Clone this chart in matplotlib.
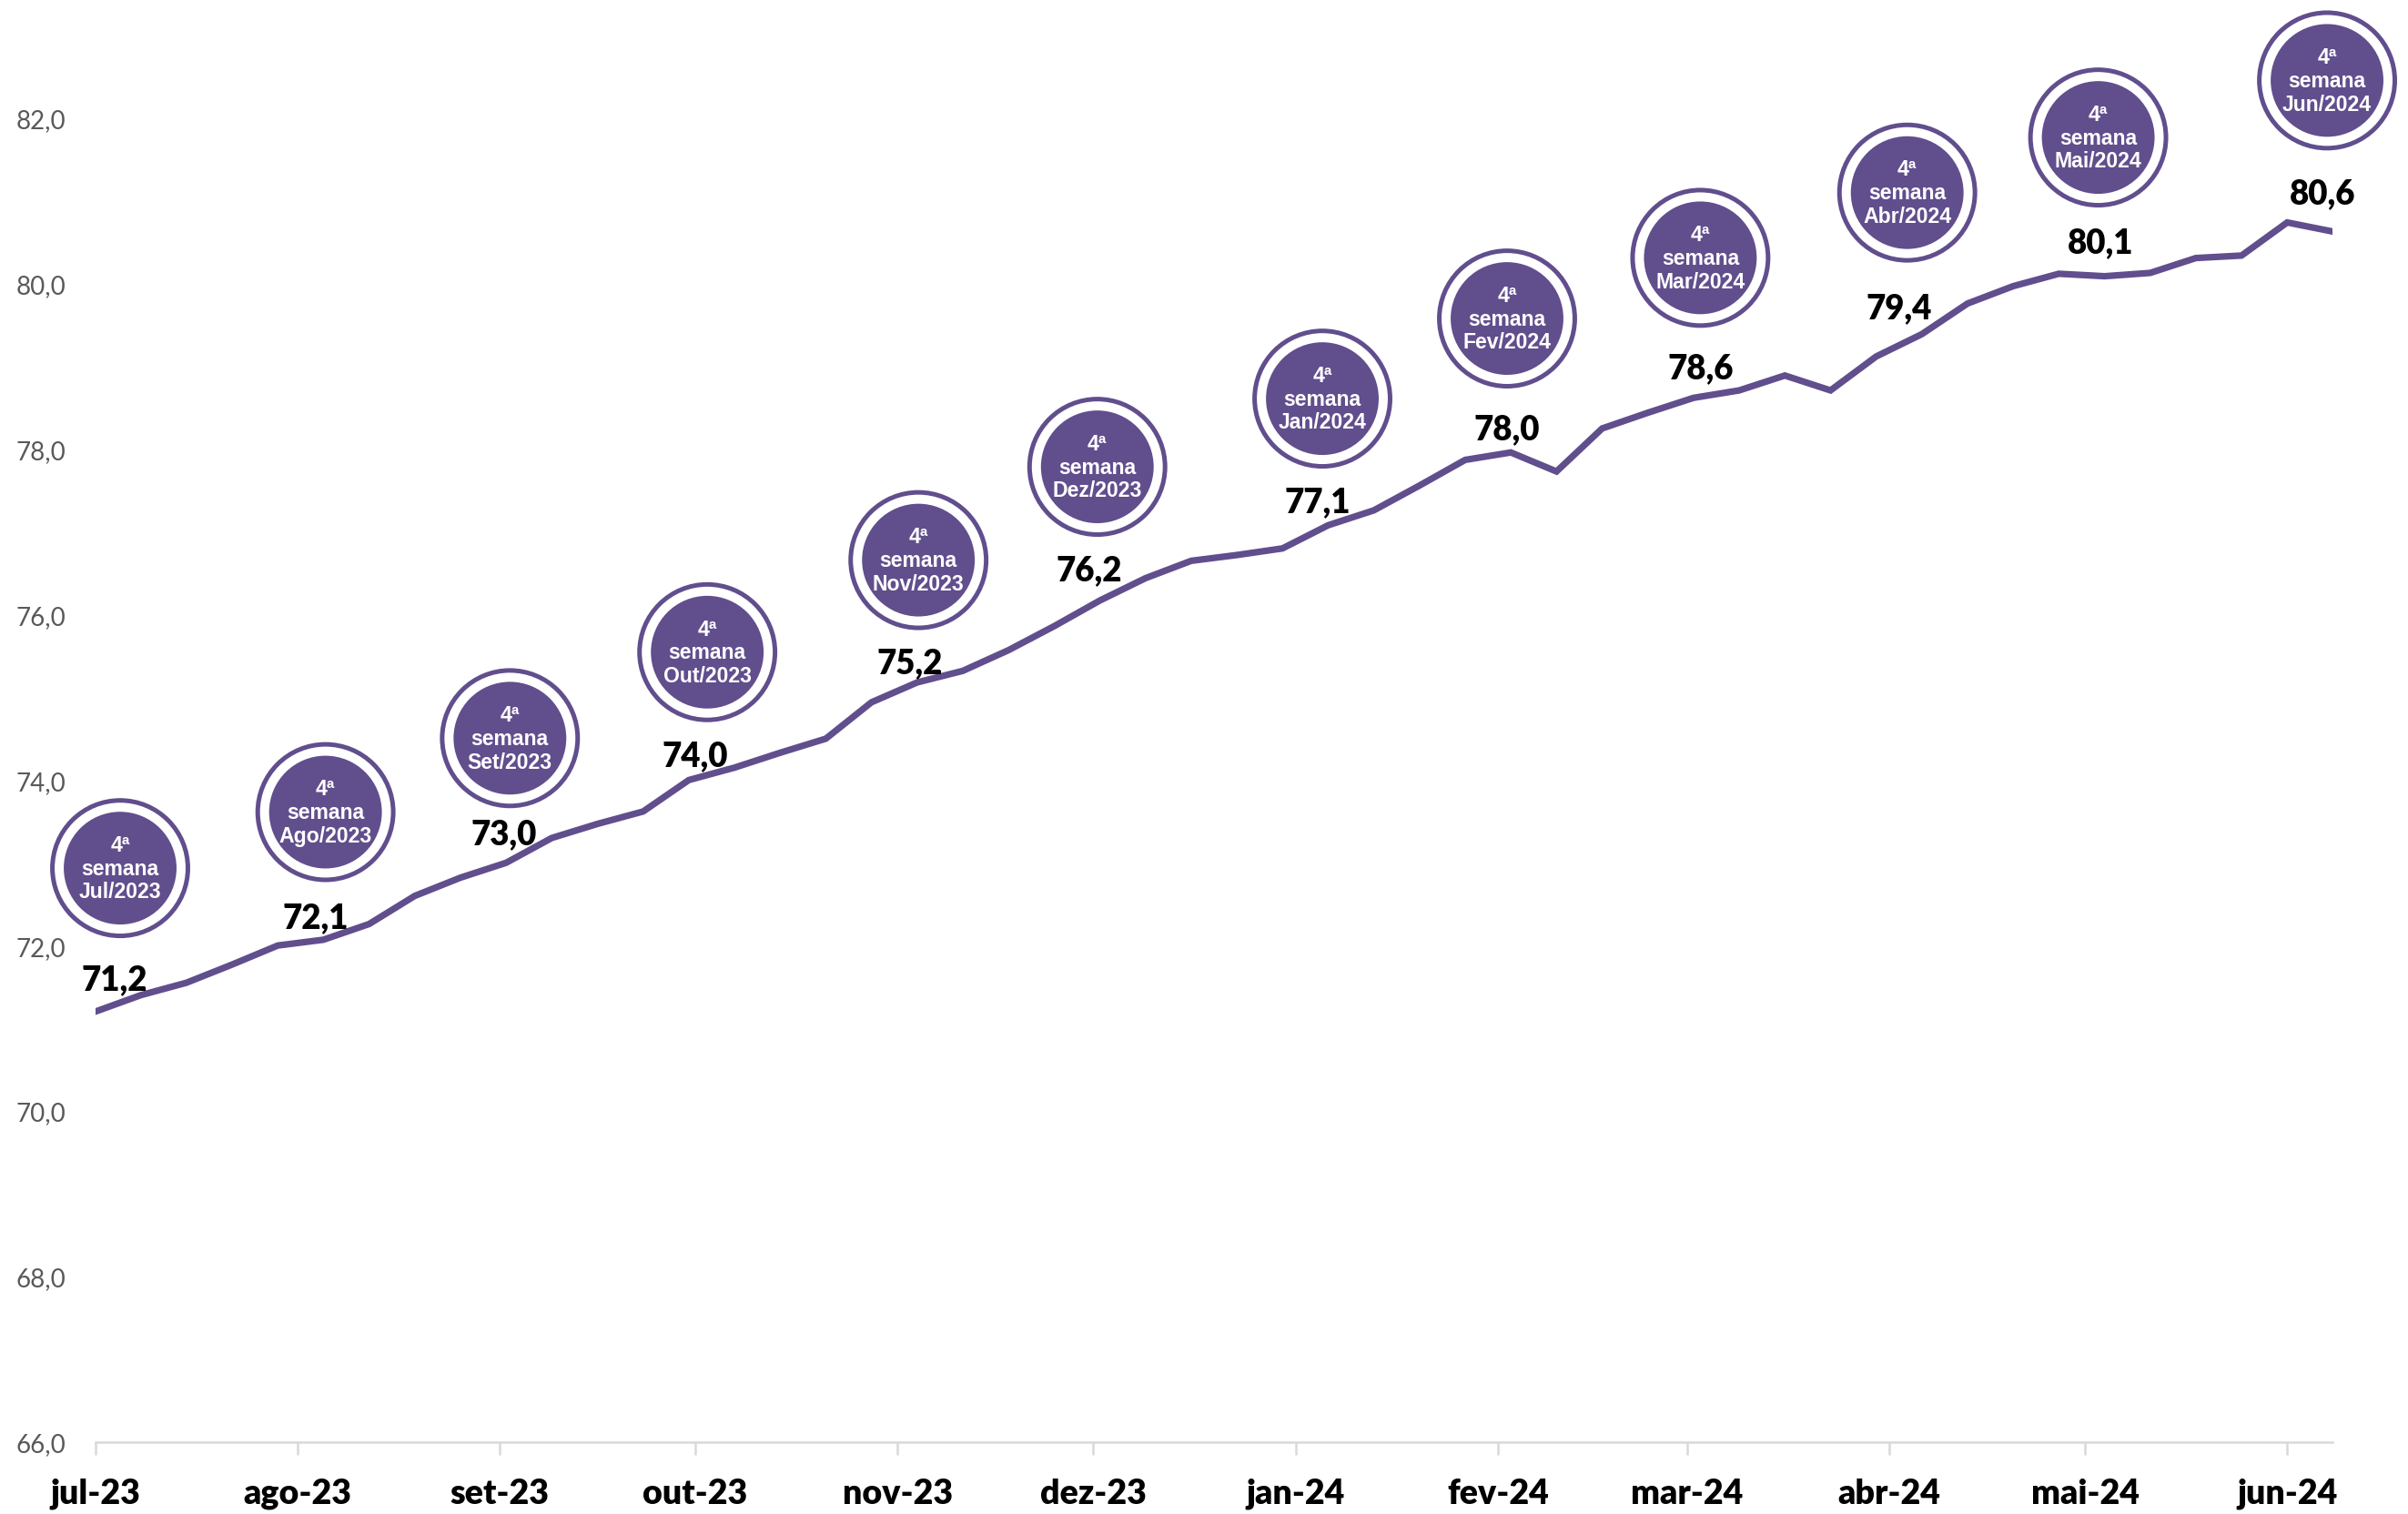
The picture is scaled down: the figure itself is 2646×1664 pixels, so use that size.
import numpy as np
import pandas as pd
import matplotlib
matplotlib.use('Agg')
import matplotlib.pyplot as plt
import matplotlib.dates as mdates
from matplotlib.patches import Circle
from matplotlib.transforms import ScaledTranslation

# -------- dados (semanas, valores em %) --------
WEEK_START = '2023-07-24'
VALUES = [71.2, 71.4, 71.55, 71.77, 72.0, 72.07, 72.26, 72.6, 72.82, 73.0,
          73.3, 73.47, 73.62, 74.0, 74.15, 74.33, 74.5, 74.94, 75.18, 75.32,
          75.57, 75.86, 76.17, 76.44, 76.65, 76.72, 76.8, 77.08, 77.26, 77.56,
          77.87, 77.96, 77.73, 78.25, 78.44, 78.62, 78.71, 78.89, 78.71, 79.12,
          79.39, 79.76, 79.97, 80.12, 80.09, 80.13, 80.31, 80.34, 80.74, 80.63]

# semanas destacadas (4a semana de cada mes)
LABEL_IDX = [0, 5, 9, 13, 18, 22, 27, 31, 35, 40, 44, 49]
BADGE_MONTHS = ['Jul/2023', 'Ago/2023', 'Set/2023', 'Out/2023', 'Nov/2023', 'Dez/2023',
                'Jan/2024', 'Fev/2024', 'Mar/2024', 'Abr/2024', 'Mai/2024', 'Jun/2024']

TICK_LABELS = ['jul-23', 'ago-23', 'set-23', 'out-23', 'nov-23', 'dez-23',
               'jan-24', 'fev-24', 'mar-24', 'abr-24', 'mai-24', 'jun-24']
Y_TICKS = [66, 68, 70, 72, 74, 76, 78, 80, 82]

# -------- layout (deslocamentos em pontos) --------
LABEL_OFFSETS = [(7.7, 12.8), (-3.3, 8.8), (-0.8, 11.7), (2.4, 9.7), (-2.9, 8.0), (-4.1, 12.3),
                 (-4.2, 9.5), (-1.5, 9.5), (3.0, 11.8), (-9.1, 10.3), (-1.5, 13.4), (-4.1, 15.4)]
BADGE_OFFSETS = [(9.9, 56.8), (0.8, 50.5), (1.5, 49.3), (7.3, 50.6), (0.5, 48.4), (-1.0, 52.9),
                 (-2.3, 50.1), (-1.5, 53.0), (2.7, 55.4), (-5.8, 56.0), (-2.5, 54.9), (-2.3, 59.8)]

PURPLE = '#614E8D'
INNER_R = 22.3   # pt
RING_R = 26.8    # pt
RING_LW = 1.8

dates = pd.date_range(WEEK_START, periods=len(VALUES), freq='7D')
xs = mdates.date2num(dates)
tick_dates = [pd.Timestamp(WEEK_START) + pd.DateOffset(months=k) for k in range(len(TICK_LABELS))]

fig = plt.figure(figsize=(13.23, 8.325), dpi=200)
ax = fig.add_axes([0.0395, 0.0476, 0.9293, 0.9524])

ax.plot(xs, VALUES, color=PURPLE, lw=2.6, solid_capstyle='round', solid_joinstyle='miter', zorder=3)

ax.set_xlim(xs[0], xs[-1])
ax.set_ylim(66, 83.44)

ax.set_yticks(Y_TICKS)
ax.set_yticklabels([f'{t:.1f}'.replace('.', ',') for t in Y_TICKS],
                   family='Lato', fontsize=10, color='#595959')
ax.set_xticks(mdates.date2num(tick_dates))
ax.set_xticklabels(TICK_LABELS, family='Lato', fontweight='heavy', fontsize=13.5, color='black')

for s in ['top', 'right', 'left']:
    ax.spines[s].set_visible(False)
ax.spines['bottom'].set_color('#D9D9D9')
ax.spines['bottom'].set_linewidth(0.9)
ax.tick_params(axis='y', length=0, pad=11.7)
ax.tick_params(axis='x', length=5, width=0.9, color='#D9D9D9', pad=9)

# rotulos de dados e selos
for k, i in enumerate(LABEL_IDX):
    x, y = xs[i], VALUES[i]
    ldx, ldy = LABEL_OFFSETS[k]
    ax.annotate(f'{y:.1f}'.replace('.', ','), (x, y), xytext=(ldx, ldy),
                textcoords='offset points', ha='center', va='center',
                family='Lato', fontweight='heavy', fontsize=13.2, color='black', zorder=5)

    bdx, bdy = BADGE_OFFSETS[k]
    trans = fig.dpi_scale_trans + ScaledTranslation(x, y, ax.transData)
    center = (bdx / 72, bdy / 72)
    ax.add_patch(Circle(center, RING_R / 72, transform=trans, facecolor='white',
                        edgecolor=PURPLE, lw=RING_LW, clip_on=False, zorder=4))
    ax.add_patch(Circle(center, INNER_R / 72, transform=trans, facecolor=PURPLE,
                        edgecolor='none', clip_on=False, zorder=4))
    ax.annotate(f'4ª\nsemana\n{BADGE_MONTHS[k]}', (x, y), xytext=(bdx, bdy),
                textcoords='offset points', ha='center', va='center', ma='center',
                family='Liberation Sans', fontweight='bold', fontsize=8.3,
                color='white', linespacing=1.15, zorder=6)

fig.savefig('out.png', dpi=200)
